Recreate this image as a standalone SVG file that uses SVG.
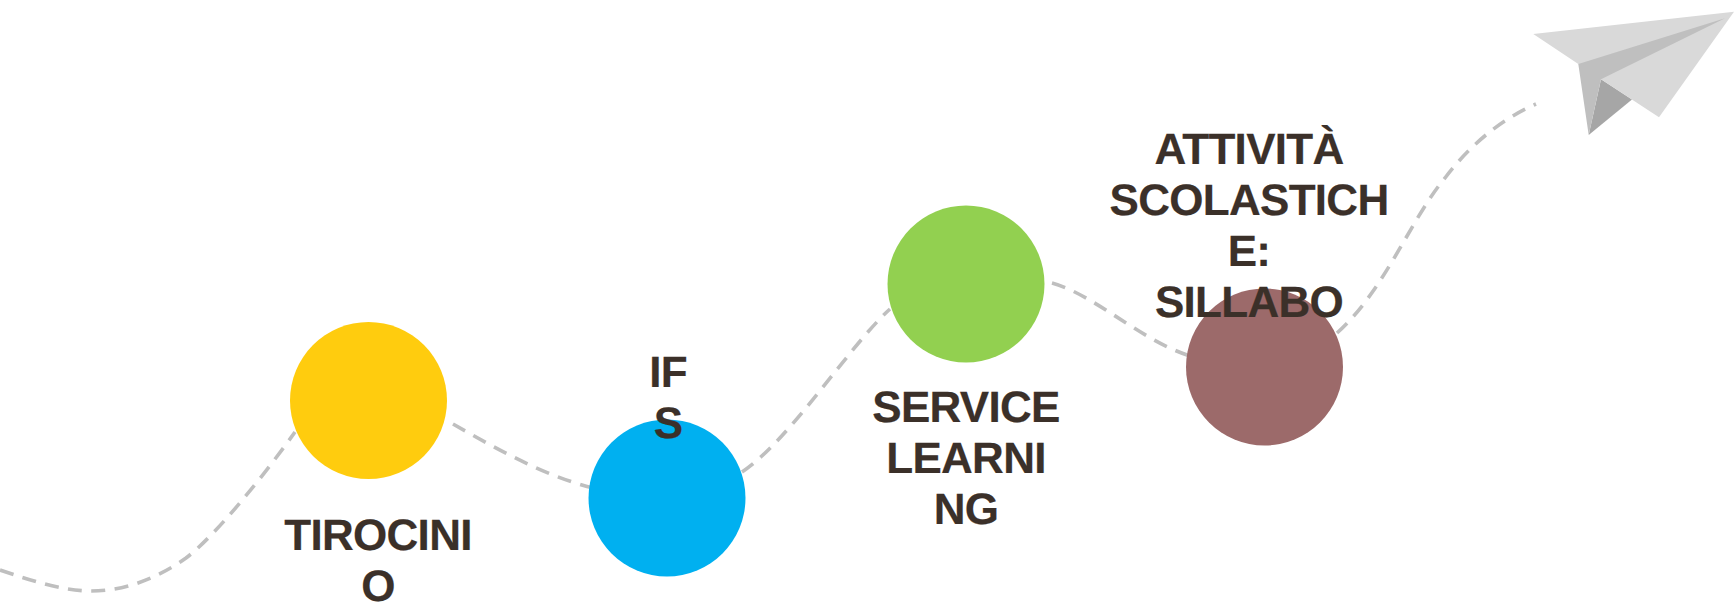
<svg xmlns="http://www.w3.org/2000/svg" width="1734" height="604" viewBox="0 0 1734 604">
<style>
.c{fill:none;stroke:#bfbfbf;stroke-width:3.6;stroke-dasharray:14 9.5}
text{font-family:"Liberation Sans",Arial,sans-serif;font-weight:700;font-size:44px;letter-spacing:-.7px;fill:#3b3029;stroke:#3b3029;stroke-width:.2;text-anchor:middle;text-rendering:geometricPrecision}
</style>
<rect width="1734" height="604" fill="#fff"/>
<g id="connectors">
<path class="c" d="M0 570C35 582 65 591 91 591C125 591 158 578 186 558C215 536 262 478 295 432"/>
<path class="c" d="M453 424C490 445 545 477 594 488"/>
<path class="c" d="M742 472C790 440 850 345 890 309"/>
<path class="c" d="M1052 283C1095 295 1140 340 1190 356"/>
<path class="c" d="M1337 333C1385 290 1410 220 1445 178C1470 145 1500 120 1536 104"/>
</g>
<g id="node-tirocinio">
<circle cx="368.5" cy="400.5" r="78.5" fill="#ffcc0e"/>
<text x="378" y="550">TIROCINI</text><text x="378" y="601">O</text>
</g>
<g id="node-ifs">
<circle cx="667" cy="498" r="78.5" fill="#00b0f0"/>
<text x="668" y="387">IF</text><text x="668" y="438">S</text>
</g>
<g id="node-service">
<circle cx="966" cy="284" r="78.5" fill="#92d050"/>
<text x="966" y="422">SERVICE</text><text x="966" y="473">LEARNI</text><text x="966" y="524">NG</text>
</g>
<g id="node-attivita">
<circle cx="1264.5" cy="367" r="78.5" fill="#9c6a6a"/>
<text x="1249" y="163.5">ATTIVITÀ</text><text x="1249" y="214.5">SCOLASTICH</text><text x="1249" y="265.5">E:</text><text x="1249" y="316.5">SILLABO</text>
</g>
<g id="plane">
<path d="M1601 79.3L1588.7 135L1632 99.5Z" fill="#a6a6a6"/>
<path d="M1533.3 34L1734 11.7L1659 117.3L1601 79.3L1578.3 64Z" fill="#d9d9d9"/>
<path d="M1578.3 64L1588.7 135L1601 79.3L1725 18.3Z" fill="#bfbfbf"/>
</g>
</svg>
